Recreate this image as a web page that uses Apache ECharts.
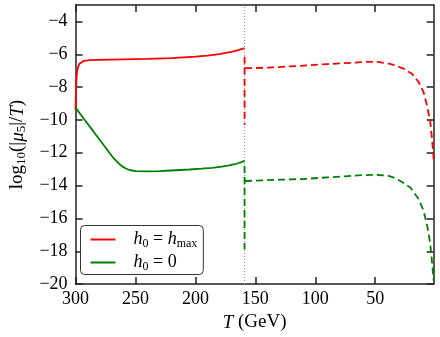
<!DOCTYPE html>
<html>
<head>
<meta charset="utf-8">
<style>
  html, body { margin: 0; padding: 0; background: #fff; }
  #chart { width: 440px; height: 337px; }
</style>
</head>
<body>
<div id="chart"></div>
<script src="https://cdn.jsdelivr.net/npm/echarts@6/dist/echarts.min.js"></script>
<script>
// T in GeV, values are log10(|mu5|/T)
var transitionT = 159;

var redSolidT = [300, 299.7, 299.3, 298.8, 298, 297, 295.5, 293, 288, 280, 260, 240, 220, 200, 190, 180, 170, 165, 159];
var redSolidLog = [-9.4, -8.3, -7.6, -7.1, -6.8, -6.6, -6.48, -6.4, -6.36, -6.34, -6.31, -6.28, -6.23, -6.15, -6.08, -5.99, -5.85, -5.76, -5.63];
var redDropT = [159, 159];
var redDropLog = [-6.15, -10.3];
var redDashT = [158.6, 150, 130, 110, 90, 70, 58, 48, 40, 33, 26, 19.3, 13.8, 9.7, 6.9, 4.1, 2.7, 1.8, 1.2];
var redDashLog = [-6.85, -6.84, -6.78, -6.69, -6.6, -6.52, -6.47, -6.47, -6.55, -6.68, -6.89, -7.19, -7.69, -8.3, -9.1, -10.1, -11.1, -11.8, -12.4];

var greenSolidT = [300, 293.4, 285.1, 276.9, 268.6, 264, 261, 258, 255, 250, 240, 230, 220, 205, 195, 186, 178, 172, 166, 161, 159];
var greenSolidLog = [-9.25, -9.9, -10.7, -11.5, -12.3, -12.65, -12.83, -12.96, -13.05, -13.12, -13.13, -13.12, -13.08, -13.02, -12.97, -12.92, -12.85, -12.77, -12.67, -12.56, -12.48];
var greenDropT = [159, 159];
var greenDropLog = [-12.8, -17.9];
var greenDashT = [158.6, 150, 130, 110, 90, 70, 59.5, 50, 40, 35, 29, 20.7, 13.8, 9.7, 6.4, 4.1, 2.5, 1.2];
var greenDashLog = [-13.72, -13.7, -13.64, -13.6, -13.5, -13.41, -13.36, -13.35, -13.38, -13.5, -13.72, -14.12, -14.82, -15.52, -16.53, -17.54, -18.74, -19.8];

var xTicks = [300, 250, 200, 150, 100, 50];
var yTicks = [-20, -18, -16, -14, -12, -10, -8, -6, -4];

var serif = 'Liberation Serif';
var red = '#ff0000', green = '#008000';
var dash = [7, 4];

function pairs(xs, ys) {
  return xs.map(function (x, i) { return [x, ys[i]]; });
}
function minusFmt(v) {
  return v < 0 ? '\u2212' + (-v) : String(v);
}

var rich = {
  g: { width: 13 },
  r: { fontFamily: serif, fontSize: 18, lineHeight: 20, color: '#000' },
  i: { fontFamily: serif, fontStyle: 'italic', fontSize: 18, lineHeight: 20, color: '#000' },
  s: { fontFamily: serif, fontSize: 12, lineHeight: 9, verticalAlign: 'bottom', color: '#000' }
};
var legendText = {
  hmax: '{g|}{i|h}{s|0}{r| = }{i|h}{s|max}',
  zero: '{g|}{i|h}{s|0}{r| = 0}'
};

var axisLineStyle = { color: '#222', width: 1.5 };

function line(name, xs, ys, color, type) {
  return {
    name: name, type: 'line', showSymbol: false, symbol: 'none',
    data: pairs(xs, ys),
    lineStyle: { color: color, width: 1.8, type: type },
    itemStyle: { color: color },
    z: 3
  };
}

var chart = echarts.init(document.getElementById('chart'));
var redMain = line('hmax', redSolidT, redSolidLog, red, 'solid');
redMain.markLine = {
  silent: true, symbol: 'none',
  label: { show: false },
  lineStyle: { color: '#999', type: [1, 2], width: 1.2 },
  data: [{ xAxis: transitionT }],
  z: 1
};

chart.setOption({
  animation: false,
  grid: { left: 72, right: 6.3, top: 5, bottom: 51.3 },
  legend: {
    orient: 'vertical', left: 80.5, top: 225.5,
    data: ['hmax', 'zero'],
    icon: 'rect',
    itemWidth: 25, itemHeight: 2, itemGap: 4,
    padding: [5, 6, 2, 10],
    backgroundColor: '#fff', borderColor: '#333', borderWidth: 1, borderRadius: 4,
    formatter: function (n) { return legendText[n]; },
    textStyle: { rich: rich }
  },
  xAxis: [{
    type: 'value', inverse: true, min: 1.2, max: 300,
    name: '{i|T}{r| (GeV)}', nameLocation: 'middle', nameGap: 22,
    nameTextStyle: { rich: { i: { fontFamily: serif, fontStyle: 'italic', fontSize: 19, color: '#000' }, r: { fontFamily: serif, fontSize: 19, color: '#000' } } },
    axisLine: { onZero: false, lineStyle: axisLineStyle },
    axisTick: { inside: true, length: 7, customValues: xTicks, lineStyle: axisLineStyle },
    axisLabel: { customValues: xTicks, margin: 6, fontFamily: serif, fontSize: 18, color: '#000' },
    splitLine: { show: false }
  }, {
    type: 'value', inverse: true, min: 1.2, max: 300, position: 'top',
    axisLine: { onZero: false, lineStyle: axisLineStyle },
    axisTick: { inside: true, length: 7, customValues: xTicks, lineStyle: axisLineStyle },
    axisLabel: { show: false },
    splitLine: { show: false }
  }],
  yAxis: [{
    type: 'value', min: -20, max: -3,
    name: '{r|log}{s|10}{r|(|}{i|\u03bc}{s|5}{r||/}{i|T}{r|)}',
    nameLocation: 'middle', nameGap: 44, nameRotate: 90,
    nameTextStyle: { rich: {
      r: { fontFamily: serif, fontSize: 19, lineHeight: 22, color: '#000' },
      i: { fontFamily: serif, fontStyle: 'italic', fontSize: 19, lineHeight: 22, color: '#000' },
      s: { fontFamily: serif, fontSize: 13, lineHeight: 9, verticalAlign: 'bottom', color: '#000' }
    } },
    axisLine: { onZero: false, lineStyle: axisLineStyle },
    axisTick: { inside: true, length: 7, customValues: yTicks, lineStyle: axisLineStyle },
    axisLabel: { customValues: yTicks, margin: 8, fontFamily: serif, fontSize: 18, color: '#000', formatter: minusFmt },
    splitLine: { show: false }
  }, {
    type: 'value', min: -20, max: -3, position: 'right',
    axisLine: { onZero: false, lineStyle: axisLineStyle },
    axisTick: { inside: true, length: 7, customValues: yTicks, lineStyle: axisLineStyle },
    axisLabel: { show: false },
    splitLine: { show: false }
  }],
  series: [
    redMain,
    line('redDrop', redDropT, redDropLog, red, dash),
    line('redDash', redDashT, redDashLog, red, dash),
    line('zero', greenSolidT, greenSolidLog, green, 'solid'),
    line('greenDrop', greenDropT, greenDropLog, green, dash),
    line('greenDash', greenDashT, greenDashLog, green, dash)
  ]
});
</script>
</body>
</html>
